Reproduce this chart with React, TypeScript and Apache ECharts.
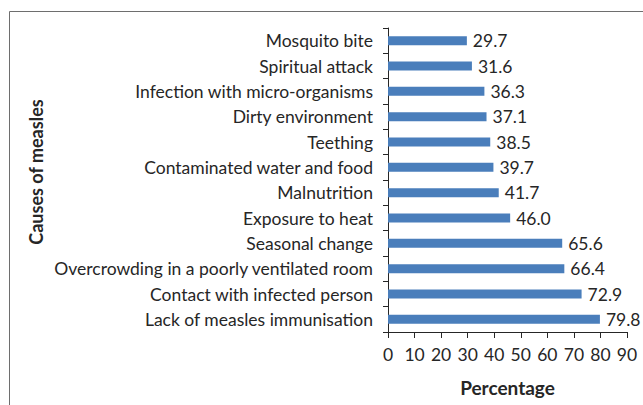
import React, { useEffect, useRef } from "react";
import * as echarts from "echarts";

const categories = [
  "Lack of measles immunisation",
  "Contact with infected person",
  "Overcrowding in a poorly ventilated room",
  "Seasonal change",
  "Exposure to heat",
  "Malnutrition",
  "Contaminated water and food",
  "Teething",
  "Dirty environment",
  "Infection with micro-organisms",
  "Spiritual attack",
  "Mosquito bite",
];
const values = [79.8, 72.9, 66.4, 65.6, 46.0, 41.7, 39.7, 38.5, 37.1, 36.3, 31.6, 29.7];
const xTicks = { min: 0, max: 90, interval: 10 };
const xName = "Percentage";
const yName = "Causes of measles";

const FONT = "Lato, 'Liberation Sans', Arial, sans-serif";
const TEXT = "#262626";

export default function App() {
  const ref = useRef<HTMLDivElement>(null);
  useEffect(() => {
    if (!ref.current) return;
    const chart = echarts.init(ref.current, undefined, { renderer: "svg" });
    chart.setOption({
      animation: false,
      backgroundColor: "#ffffff",
      textStyle: { fontFamily: FONT, color: TEXT },
      graphic: [
        {
          type: "rect",
          shape: { x: 9.5, y: 11.5, width: 700, height: 500 },
          style: { fill: "none", stroke: "#6e6e6e", lineWidth: 1 },
          silent: true,
          z: 0,
        },
      ],
      grid: { left: 388, right: 16, top: 28, bottom: 73, containLabel: false },
      xAxis: {
        type: "value",
        min: xTicks.min,
        max: xTicks.max,
        interval: xTicks.interval,
        name: xName,
        nameLocation: "middle",
        nameGap: 46,
        nameTextStyle: { fontFamily: FONT, fontSize: 19, fontWeight: "bold", color: TEXT },
        axisLine: { show: true, lineStyle: { color: "#262626", width: 1 } },
        axisTick: { show: true, length: 6, lineStyle: { color: "#262626" } },
        axisLabel: { fontFamily: FONT, fontSize: 17.5, color: TEXT, margin: 13 },
        splitLine: { show: false },
      },
      yAxis: {
        type: "category",
        data: categories,
        name: yName,
        nameLocation: "middle",
        nameGap: 343,
        nameTextStyle: {
          fontFamily: FONT,
          fontSize: 18,
          fontWeight: "bold",
          color: TEXT,
          padding: [0, 0, 0, 16],
        },
        axisLine: { show: true, lineStyle: { color: "#262626", width: 1 } },
        axisTick: { show: true, length: 5, alignWithLabel: false, lineStyle: { color: "#262626" } },
        axisLabel: { fontFamily: FONT, fontSize: 17.5, color: TEXT, margin: 15 },
        splitLine: { show: false },
      },
      series: [
        {
          type: "bar",
          data: values,
          barWidth: 9,
          itemStyle: { color: "#4a7ebb" },
          label: {
            show: true,
            position: "right",
            distance: 6,
            fontFamily: FONT,
            fontSize: 17.5,
            color: TEXT,
            formatter: (p: any) => Number(p.value).toFixed(1),
          },
        },
      ],
    });
    return () => chart.dispose();
  }, []);
  return (
    <div
      ref={ref}
      style={{ position: "fixed", left: 0, top: 0, width: 643, height: 405, background: "#fff" }}
    />
  );
}
